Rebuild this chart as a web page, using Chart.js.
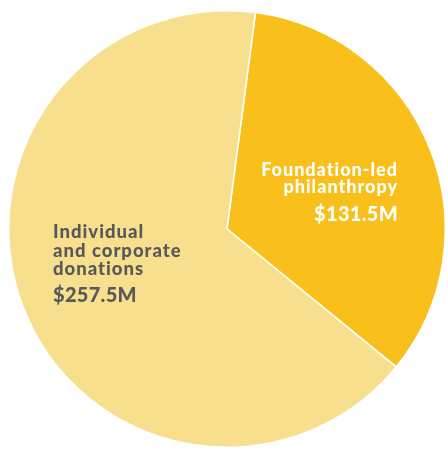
<!DOCTYPE html>
<html>
<head>
<meta charset="utf-8">
<script src="https://cdn.jsdelivr.net/npm/chart.js@4.4.0/dist/chart.umd.min.js"></script>
<style>
  html, body { margin: 0; padding: 0; background: #fff; }
  #wrap { width: 448px; height: 453px; }
</style>
</head>
<body>
<div id="wrap"><canvas id="canvas" width="448" height="453"></canvas></div>
<script>
const categories = ['Foundation-led philanthropy', 'Individual and corporate donations'];
const values = [131.5, 257.5];
const valueLabels = ['$131.5M', '$257.5M'];
const labelLines = [['Foundation-led', 'philanthropy'], ['Individual', 'and corporate', 'donations']];
const sliceColors = ['#F9C01B', '#F8DF8D'];

// text labels drawn inside the slices
const sliceLabels = {
  id: 'sliceLabels',
  afterDraw(chart) {
    const ctx = chart.ctx;
    const arcs = chart.getDatasetMeta(0).data;
    const cx = arcs[0].x, cy = arcs[0].y;
    ctx.save();
    ctx.textBaseline = 'alphabetic';

    // foundation: right aligned, white
    ctx.fillStyle = '#ffffff';
    ctx.textAlign = 'right';
    ctx.letterSpacing = '1px';
    ctx.font = '900 18px Lato';
    ctx.fillText(labelLines[0][0], cx + 171, cy - 53);
    ctx.fillText(labelLines[0][1], cx + 171, cy - 36);
    ctx.letterSpacing = '0.3px';
    ctx.font = '900 20px Lato';
    ctx.fillText(valueLabels[0], cx + 171, cy - 8);

    // individual: left aligned, grey
    ctx.fillStyle = '#58585A';
    ctx.textAlign = 'left';
    ctx.letterSpacing = '1px';
    ctx.font = '900 18.5px Lato';
    ctx.fillText(labelLines[1][0], cx - 174, cy + 9);
    ctx.fillText(labelLines[1][1], cx - 174, cy + 28);
    ctx.fillText(labelLines[1][2], cx - 174, cy + 46);
    ctx.letterSpacing = '0.3px';
    ctx.font = '900 20px Lato';
    ctx.fillText(valueLabels[1], cx - 174, cy + 73);
    ctx.restore();
  }
};

new Chart(document.getElementById('canvas').getContext('2d'), {
  type: 'pie',
  data: {
    labels: categories,
    datasets: [{
      data: values,
      backgroundColor: sliceColors,
      borderColor: '#ffffff',
      borderWidth: 1.5
    }]
  },
  options: {
    responsive: false,
    animation: false,
    rotation: 7.5,
    layout: { padding: { left: 8, right: 2, top: 10, bottom: 5 } },
    plugins: {
      legend: { display: false },
      tooltip: { enabled: false }
    }
  },
  plugins: [sliceLabels]
});
</script>
</body>
</html>
